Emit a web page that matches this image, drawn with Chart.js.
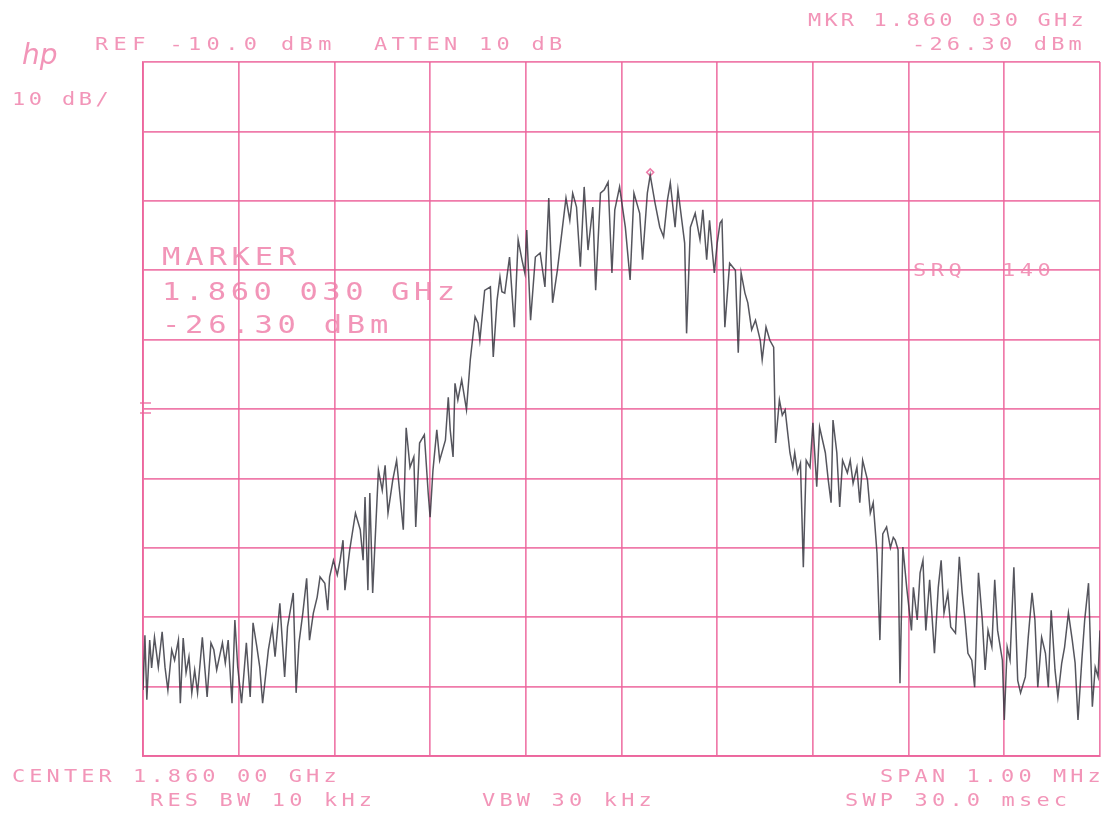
<!DOCTYPE html>
<html>
<head>
<meta charset="utf-8">
<script src="https://cdn.jsdelivr.net/npm/chart.js@4"></script>
<style>
  html, body { margin: 0; padding: 0; background: #ffffff; }
  canvas { display: block; }
</style>
</head>
<body>
<canvas id="spectrum" width="1112" height="814"></canvas>
<script>
// sweep settings
const refLevel = -10;      // dBm, top graticule line
const dbPerDiv = 10;
const spanKHz = 1000;      // centre 1.86000 GHz, span 1.00 MHz
const markerKHz = [30];
const markerDbm = [-26.3];

// trace, frequency offset from centre in kHz
const freqOffsetKHz = [
  -500, -498, -496, -493, -491, -488, -484, -480, -477, -474, -470, -467, -463, -461, -458, -455,
  -452, -449, -446, -443, -438, -435, -433, -429, -426, -423, -417, -414, -411, -407, -404, -401,
  -397, -392, -388, -385, -381, -378, -375, -369, -365, -362, -357, -352, -349, -343, -340, -337,
  -333, -329, -326, -322, -318, -315, -310, -307, -305, -301, -297,
  -294, -291, -289, -284, -278, -273, -270, -268, -265, -263, -260, -254, -250, -247, -244, -239,
  -235, -231, -228, -225, -221, -217, -215, -211, -206, -202, -200, -197, -193, -190, -184, -181,
  -179, -176, -174, -171, -167, -162,
  -158, -153, -150, -148, -143, -137, -134, -130, -127, -125, -122, -117, -112, -108, -104, -101,
  -99, -95, -90, -85, -80, -76, -72, -67, -62, -58, -54, -51, -47, -43, -39, -35, -33, -30, -27,
  -22, -18, -14, -10, -7, -2, 4, 9, 13, 19, 22, 27, 30, 35, 40, 44, 48, 51, 56, 59, 63, 66, 68,
  72, 77, 82, 85, 89, 92, 97, 100, 103, 105, 108, 113, 119, 122, 125, 129,
  132, 136, 140, 145, 147, 151, 155, 159, 161, 165, 168, 171, 173, 176, 179, 181, 184, 187, 190,
  193, 197, 200, 204, 207, 213, 216, 219, 221, 225, 228, 231, 236, 239, 242, 246, 249, 252, 257,
  260, 263, 267, 270, 273, 277, 281, 284, 286, 289, 291, 294,
  298, 303, 305, 309, 312, 315, 318, 322, 327, 331, 334, 337, 341, 344, 349, 353, 356, 359, 362,
  366, 369, 373, 377, 380, 383, 387, 390, 393, 398, 400, 403, 406, 410, 414, 417, 422, 425, 429,
  432, 435, 439, 443, 446, 449, 453, 456, 460, 463, 467, 471, 474, 477, 481, 484, 488, 492, 495,
  498, 500
];

// trace level in dBm
const traceDbm = [
  -100.5, -92.6, -101.9, -93.3, -97.3, -92.9, -97.2, -92.1, -97.2, -100.5, -94.7, -96.2, -93.3, -102.4, -93.0, -98.0,
  -95.7, -100.9, -97.6, -100.9, -92.9, -98.0, -101.5, -93.7, -94.7, -97.6, -93.7, -96.6, -93.3, -102.4, -90.4, -97.2,
  -102.4, -93.7, -101.5, -90.8, -94.3, -97.2, -102.4, -94.7, -91.4, -95.7, -88.0, -98.6, -91.4, -86.5, -100.9, -93.7,
  -89.4, -84.4, -93.3, -89.4, -87.1, -84.2, -85.1, -89.0, -84.2, -81.8, -83.9,
  -81.8, -78.9, -86.1, -80.3, -75.0, -77.4, -81.8, -72.7, -86.1, -72.1, -86.5, -68.8, -71.7, -68.1, -75.0, -70.2,
  -67.4, -73.1, -77.4, -62.7, -68.4, -66.9, -77.0, -64.9, -63.7, -72.1, -75.6, -68.8, -63.0, -67.4, -64.5, -58.3,
  -63.0, -66.9, -56.3, -58.7, -55.8, -60.1,
  -52.9, -46.7, -47.6, -50.1, -42.9, -42.4, -52.5, -44.3, -41.0, -43.1, -43.3, -38.1, -48.2, -35.6, -38.5, -40.4,
  -34.2, -47.2, -38.1, -37.5, -42.4, -29.6, -44.7, -40.0, -34.2, -29.6, -32.8, -28.9, -30.9, -39.5, -28.0, -37.1, -34.6, -30.9, -42.9,
  -28.9, -28.4, -27.3, -40.4, -31.3, -28.0, -33.8, -41.4, -28.9, -31.8, -38.5, -28.9, -26.3, -30.3, -33.8, -35.2, -29.9, -27.4, -33.8, -28.4, -32.8, -36.1, -49.1,
  -33.8, -31.8, -35.6, -31.3, -38.5, -32.8, -40.4, -36.1, -33.2, -32.8, -48.2, -39.0, -40.0, -51.9, -40.4, -43.3,
  -44.7, -48.6, -47.2, -50.1, -52.9, -48.2, -50.1, -51.1, -64.9, -58.7, -60.9, -60.1, -62.6, -66.3, -68.4, -66.3, -69.2, -67.8, -82.8,
  -67.4, -68.4, -62.0, -71.2, -62.6, -66.3, -70.2, -73.5, -61.6, -66.3, -74.1, -67.4, -69.2, -67.4, -70.7, -68.4, -73.5, -67.4, -70.2,
  -75.0, -73.5, -80.8, -93.3, -78.0, -77.0, -80.0, -78.5, -78.9, -80.3, -99.5, -79.9,
  -85.7, -91.9, -85.7, -90.4, -83.6, -81.8, -91.9, -84.6, -95.2, -85.7, -81.8, -89.4, -86.5, -91.4, -92.3, -81.3, -86.5, -90.4, -95.2,
  -96.2, -100.1, -83.6, -90.4, -97.6, -91.9, -94.3, -84.6, -91.9, -96.2, -104.8, -94.3, -96.2, -82.8, -99.1, -100.9, -98.6, -92.9, -86.5,
  -90.4, -100.1, -92.9, -95.2, -100.1, -89.0, -97.6, -101.5, -96.6, -94.3, -89.4, -93.3, -96.6, -104.8, -96.2, -90.4, -85.1, -102.9, -97.2,
  -98.6, -91.9
];

const gridPink = 'rgba(236, 100, 155, 0.85)';
const textPink = 'rgba(240, 130, 172, 0.85)';

// plotter style lettering: fixed pitch per character, glyphs stretched wide
function plotText(ctx, str, x, y, pitch, size) {
    ctx.font = size + 'px "DejaVu Sans Mono"';
    for (let i = 0; i < str.length; i++) {
        ctx.save();
        ctx.translate(x + i * pitch, y);
        ctx.scale(1.22, 1);
        ctx.fillText(str[i], 0, 0);
        ctx.restore();
    }
}

const annotations = {
    id: 'annotations',
    afterDraw(chart) {
        const ctx = chart.ctx;
        const area = chart.chartArea;
        ctx.save();
        ctx.fillStyle = textPink;
        ctx.textBaseline = 'alphabetic';

        // hp logo
        ctx.font = 'italic 28px "DejaVu Sans"';
        ctx.fillText('hp', 22, 64);

        plotText(ctx, 'REF -10.0 dBm', 95, 50, 18.6, 18);
        plotText(ctx, 'ATTEN 10 dB', 374, 50, 17.5, 18);
        plotText(ctx, 'MKR 1.860 030 GHz', 808, 26, 16.4, 18);
        plotText(ctx, '-26.30 dBm', 912, 50, 17.4, 18);
        plotText(ctx, '10 dB/', 12, 105, 16.7, 18);

        plotText(ctx, 'MARKER', 162, 265, 23.2, 25);
        plotText(ctx, '1.860 030 GHz', 162, 300, 22.9, 25);
        plotText(ctx, '-26.30 dBm', 162, 333, 23.1, 25);

        plotText(ctx, 'SRQ  140', 913, 276, 17.8, 18);

        plotText(ctx, 'CENTER 1.860 00 GHz', 12, 782, 17.3, 18);
        plotText(ctx, 'RES BW 10 kHz', 150, 806, 17.4, 18);
        plotText(ctx, 'VBW 30 kHz', 482, 806, 17.4, 18);
        plotText(ctx, 'SPAN 1.00 MHz', 880, 782, 17.3, 18);
        plotText(ctx, 'SWP 30.0 msec', 845, 806, 17.4, 18);

        // reference marks on the left edge
        ctx.strokeStyle = gridPink;
        ctx.lineWidth = 1.5;
        ctx.beginPath();
        ctx.moveTo(area.left - 3, 403); ctx.lineTo(area.left + 8, 403);
        ctx.moveTo(area.left - 3, 413); ctx.lineTo(area.left + 8, 413);
        ctx.stroke();
        ctx.restore();
    }
};

const ctx = document.getElementById('spectrum').getContext('2d');
const spectrumChart = new Chart(ctx, {
    type: 'line',
    data: {
        datasets: [
            {
                label: 'Trace',
                data: freqOffsetKHz.map((f, i) => ({ x: f, y: traceDbm[i] })),
                borderColor: 'rgba(55, 55, 65, 0.85)',
                borderWidth: 1.5,
                pointRadius: 0,
                tension: 0,
                fill: false
            },
            {
                label: 'Marker',
                data: markerKHz.map((f, i) => ({ x: f, y: markerDbm[i] + 0.4 })),
                showLine: false,
                pointStyle: 'rectRot',
                pointRadius: 3.5,
                borderColor: gridPink,
                backgroundColor: 'rgba(255,255,255,0)',
                borderWidth: 1.5
            }
        ]
    },
    options: {
        responsive: false,
        animation: false,
        layout: {
            padding: { left: 143, right: 12, top: 62, bottom: 58 }
        },
        plugins: {
            legend: { display: false },
            tooltip: { enabled: false }
        },
        scales: {
            x: {
                type: 'linear',
                min: -spanKHz / 2,
                max: spanKHz / 2,
                ticks: { display: false, stepSize: 100 },
                grid: { color: gridPink, lineWidth: 1.7, drawTicks: false },
                border: { color: gridPink, width: 1.9 }
            },
            y: {
                min: refLevel - 10 * dbPerDiv,
                max: refLevel,
                ticks: { display: false, stepSize: dbPerDiv },
                grid: { color: gridPink, lineWidth: 1.7, drawTicks: false },
                border: { color: gridPink, width: 1.9 }
            }
        }
    },
    plugins: [annotations]
});
</script>
</body>
</html>
